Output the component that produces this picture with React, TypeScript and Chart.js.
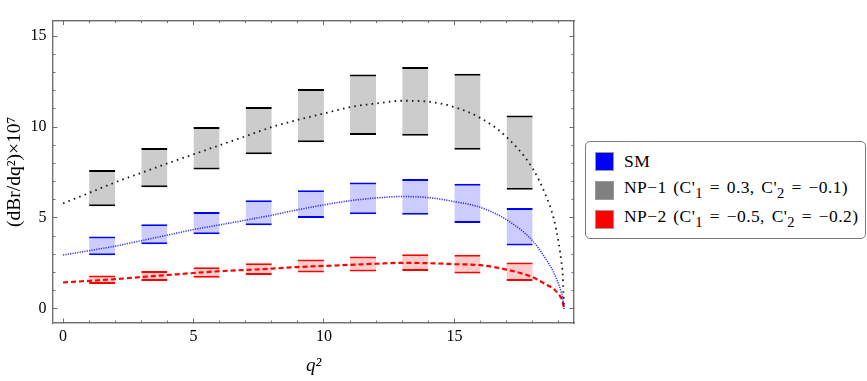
import React, { useEffect, useRef } from "react";
import { Chart, registerables } from "chart.js";

Chart.register(...registerables);

// q² bins of the binned predictions
const binLow = [1, 3, 5, 7, 9, 11, 13, 15, 17];
const binHigh = [2, 4, 6, 8, 10, 12, 14, 16, 18];

// binned ranges (lower / upper edge), in units of 10^-7
const smLow = [2.95, 3.55, 4.1, 4.6, 5.0, 5.2, 5.17, 4.72, 3.48];
const smHigh = [3.98, 4.66, 5.33, 5.98, 6.52, 6.95, 7.14, 6.88, 5.55];
const np1Low = [5.65, 6.69, 7.67, 8.5, 9.17, 9.57, 9.53, 8.76, 6.55];
const np1High = [7.64, 8.85, 10.0, 11.1, 12.1, 12.9, 13.31, 12.93, 10.64];
const np2Low = [1.36, 1.53, 1.71, 1.86, 2.0, 2.05, 2.08, 1.95, 1.53];
const np2High = [1.84, 2.08, 2.29, 2.51, 2.71, 2.88, 3.0, 2.98, 2.55];

// differential distributions
const q2 = [0, 1, 2, 3, 4, 5, 6, 7, 8, 9, 10, 11, 12, 13, 14, 15, 16, 17, 18, 18.5, 18.8, 19.0, 19.1, 19.15, 19.2];
const smCurve = [2.96, 3.2, 3.45, 3.75, 4.06, 4.36, 4.62, 4.88, 5.15, 5.45, 5.72, 5.95, 6.1, 6.18, 6.12, 5.9, 5.58, 4.9, 3.74, 2.75, 2.02, 1.34, 0.9, 0.63, 0];
const np1Curve = [5.8, 6.38, 6.96, 7.48, 8.0, 8.5, 9.0, 9.5, 10.0, 10.4, 10.75, 11.1, 11.3, 11.45, 11.4, 11.1, 10.5, 9.45, 7.72, 6.25, 5.0, 3.6, 2.6, 1.9, 0];
const np2Curve = [1.45, 1.54, 1.63, 1.75, 1.86, 1.97, 2.07, 2.14, 2.21, 2.3, 2.36, 2.42, 2.48, 2.53, 2.51, 2.46, 2.4, 2.16, 1.74, 1.35, 1.1, 0.8, 0.58, 0.41, 0];

const X_MIN = -0.384;
const X_MAX = 19.584;
const Y_MIN = -0.78;
const Y_MAX = 15.86;

const FRAME = "#6e6e6e";
const SERIF = "'Liberation Serif', 'Times New Roman', 'DejaVu Serif', serif";

const legendItems = [
  { color: "#0000ff", label: <>SM</> },
  {
    color: "#808080",
    label: (
      <>
        NP−1 (C'<sub>1</sub> = 0.3, C'<sub>2</sub> = −0.1)
      </>
    ),
  },
  {
    color: "#ff0000",
    label: (
      <>
        NP−2 (C'<sub>1</sub> = −0.5, C'<sub>2</sub> = −0.2)
      </>
    ),
  },
];

const binCenters = binLow.map((lo, i) => (lo + binHigh[i]) / 2);

function band(label: string, lows: number[], highs: number[], fill: string, edge: string) {
  return {
    type: "bar" as const,
    label,
    data: binCenters.map((x, i) => ({ x, y: [lows[i], highs[i]] })),
    backgroundColor: fill,
    borderColor: edge,
    borderWidth: { top: 2, bottom: 2, left: 0, right: 0 },
    borderSkipped: false,
    barPercentage: 0.5,
    categoryPercentage: 1,
    grouped: false,
    inflateAmount: 0,
    order: 2,
    xAxisID: "x",
    yAxisID: "y",
  };
}

function curve(label: string, values: number[], color: string, width: number, dash: number[]) {
  return {
    type: "line" as const,
    label,
    data: q2.map((x, i) => ({ x, y: values[i] })),
    borderColor: color,
    borderWidth: width,
    borderDash: dash,
    pointRadius: 0,
    fill: false,
    cubicInterpolationMode: "monotone" as const,
    order: 1,
    xAxisID: "x",
    yAxisID: "y",
  };
}

// frame axis: draws one side of the frame with inward tick marks
function frameAxis(opts: {
  horizontal: boolean;
  position: string;
  step: number;
  tickLength: number;
  weight: number;
  size: number;
  labels: boolean;
  padding?: number;
  title?: any;
}) {
  const { horizontal, position, step, tickLength, weight, size, labels, padding, title } = opts;
  return {
    type: "linear",
    position,
    min: horizontal ? X_MIN : Y_MIN,
    max: horizontal ? X_MAX : Y_MAX,
    offset: false,
    weight,
    grid: {
      display: true,
      drawOnChartArea: false,
      drawTicks: true,
      offset: false,
      tickLength,
      tickColor: FRAME,
      tickWidth: 1,
    },
    border: { display: true, color: FRAME, width: 1.2 },
    ticks: {
      stepSize: step,
      includeBounds: false,
      display: labels,
      color: "#000",
      padding: padding ?? 0,
      maxRotation: 0,
      autoSkip: false,
      font: { family: SERIF, size: 16 },
    },
    title: title ?? { display: false },
    afterFit: (s: any) => {
      if (horizontal) s.height = size;
      else s.width = size;
    },
  };
}

function ChartPanel() {
  const ref = useRef<HTMLCanvasElement | null>(null);
  useEffect(() => {
    if (!ref.current) return;
    const chart = new Chart(ref.current, {
      type: "bar",
      data: {
        datasets: [
          curve("SM", smCurve, "rgba(20,20,255,0.85)", 1.6, [1.2, 1.2]),
          curve("NP-1", np1Curve, "#1a1a1a", 1.8, [1.6, 4.2]),
          curve("NP-2", np2Curve, "#ff0000", 2.2, [5, 3]),
          band("NP-1 bins", np1Low, np1High, "#cccccc", "#000000"),
          band("SM bins", smLow, smHigh, "#ccccff", "#0000ff"),
          band("NP-2 bins", np2Low, np2High, "#ffcccc", "#ff0000"),
        ] as any,
      },
      options: {
        responsive: false,
        animation: false,
        layout: { padding: { left: 0, top: 2, right: 6, bottom: 0 } },
        plugins: { legend: { display: false }, tooltip: { enabled: false } },
        scales: {
          x: frameAxis({
            horizontal: true,
            position: "bottom",
            step: 5,
            tickLength: -4.5,
            weight: 1,
            size: 58,
            labels: true,
            padding: 9,
            title: {
              display: true,
              text: "q²",
              color: "#000",
              font: { family: SERIF, size: 19, style: "italic" },
              padding: { top: 0, bottom: 4 },
            },
          }),
          xm: frameAxis({ horizontal: true, position: "bottom", step: 1, tickLength: -2.5, weight: 0, size: 0, labels: false }),
          xt: frameAxis({ horizontal: true, position: "top", step: 5, tickLength: -4.5, weight: 1, size: 0, labels: false }),
          xtm: frameAxis({ horizontal: true, position: "top", step: 1, tickLength: -2.5, weight: 0, size: 0, labels: false }),
          y: frameAxis({
            horizontal: false,
            position: "left",
            step: 5,
            tickLength: -4.5,
            weight: 1,
            size: 53,
            labels: true,
            padding: 11,
            title: {
              display: true,
              text: "(dBr/dq²)×10⁷",
              color: "#000",
              font: { family: SERIF, size: 19.5 },
              padding: { top: 3, bottom: 0 },
            },
          }),
          ym: frameAxis({ horizontal: false, position: "left", step: 1, tickLength: -2.5, weight: 0, size: 0, labels: false }),
          yr: frameAxis({ horizontal: false, position: "right", step: 5, tickLength: -4.5, weight: 1, size: 0, labels: false }),
          yrm: frameAxis({ horizontal: false, position: "right", step: 1, tickLength: -2.5, weight: 0, size: 0, labels: false }),
        } as any,
      },
    });
    return () => chart.destroy();
  }, []);
  return <canvas ref={ref} width={580} height={381} style={{ display: "block", width: 580, height: 381 }} />;
}

function Legend() {
  return (
    <div
      style={{
        position: "absolute",
        left: 585,
        top: 141,
        width: 281,
        height: 98,
        boxSizing: "border-box",
        border: "1.5px solid #7a7a7a",
        borderRadius: 5,
        background: "#fff",
        fontFamily: SERIF,
        fontSize: 17.5,
        color: "#000",
      }}
    >
      {legendItems.map((item, i) => (
        <div
          key={i}
          style={{
            position: "absolute",
            left: 9,
            top: 9 + i * 29,
            height: 20,
            display: "flex",
            alignItems: "center",
            whiteSpace: "nowrap",
            lineHeight: "20px",
          }}
        >
          <span
            style={{
              display: "inline-block",
              width: 19,
              height: 19,
              boxSizing: "border-box",
              background: item.color,
              border: "1px solid #9a9a9a",
              marginRight: 10,
              flex: "none",
            }}
          />
          <span style={{ wordSpacing: 2, letterSpacing: 0.4 }}>{item.label}</span>
        </div>
      ))}
    </div>
  );
}

export default function App() {
  return (
    <div style={{ position: "absolute", left: 0, top: 0, width: 867, height: 381, background: "#fff" }}>
      <ChartPanel />
      <Legend />
    </div>
  );
}
